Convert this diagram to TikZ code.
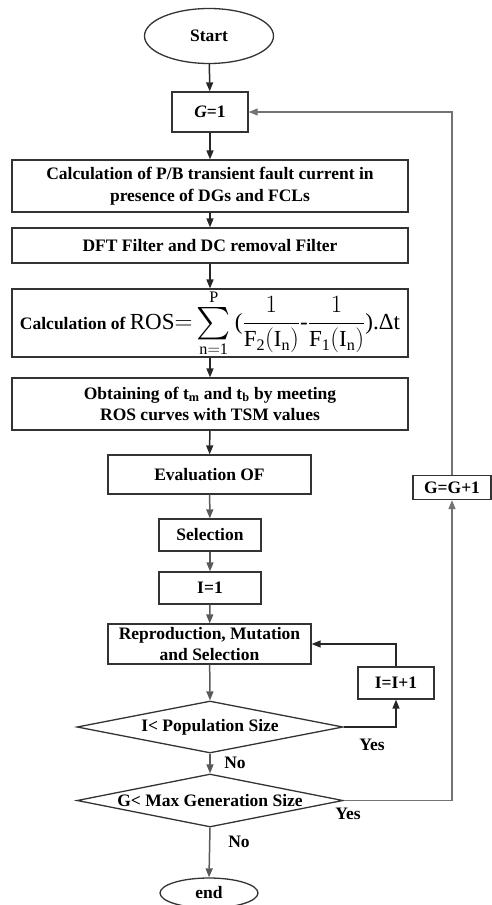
\documentclass[tikz,border=0pt]{standalone}
\usepackage{amsmath}
\usepackage{exscale}
\usepackage{fontspec}
\setmainfont{Liberation Serif}
\usetikzlibrary{shapes.geometric,arrows.meta,positioning}
\newcommand{\bigsumop}{\mathop{\vcenter{\hbox{\scalebox{1.3}{$\textstyle\sum$}}}}}
\begin{document}
\begin{tikzpicture}[x=1pt,y=-1pt,
  txt/.style={font=\fontsize{17.5}{21.5}\selectfont\bfseries},
  box/.style={txt,draw=black!80,line width=1.3pt,rectangle,inner sep=0pt,align=center},
  oval/.style={txt,draw=black!80,line width=1.3pt,ellipse,inner sep=0pt},
  dia/.style={draw=black!80,line width=1.3pt,diamond,inner sep=0pt},
  lbl/.style={txt,inner sep=0pt},
  arr/.style={line width=1.5pt,-{Triangle[length=9pt,width=7pt]}},
  darr/.style={arr,draw=black!85},
  garr/.style={arr,draw=black!65},
  fb/.style={arr,line width=1.3pt,draw=black!55}
]
\useasboundingbox (0,0) rectangle (491,905);

\node[oval,minimum width=129pt,minimum height=55pt] (start) at (209,36) {Start};
\node[box,minimum width=76pt,minimum height=40pt] (g1) at (210,112) {\textit{G}=1};
\node[box,minimum width=396pt,minimum height=52pt] (calc) at (210,186)
  {Calculation of P/B transient fault current in\\presence of DGs and FCLs};
\node[box,minimum width=396pt,minimum height=35pt] (dft) at (210,245.5)
  {DFT Filter and DC removal Filter};
\node[box,minimum width=396pt,minimum height=64pt] (ros) at (210,323)
  {Calculation of \fontsize{23}{25}\selectfont\mdseries
   $\displaystyle\mathrm{ROS}{=}\bigsumop\limits_{\mathrm{n=1}}^{\mathrm{P}}\mbox{(}\frac{1}{\mathrm{F_2(I_n)}}\mbox{-}\frac{1}{\mathrm{F_1(I_n)}}\mbox{).Δt}$};
\node[box,minimum width=396pt,minimum height=52pt] (obt) at (210,404)
  {Obtaining of t\textsubscript{m} and t\textsubscript{b} by meeting\\ROS curves with TSM values};
\node[box,minimum width=203pt,minimum height=39pt] (eval) at (209.5,474.5) {Evaluation OF};
\node[box,minimum width=102pt,minimum height=32pt] (sel) at (210,535) {Selection};
\node[box,minimum width=102pt,minimum height=32pt] (i1) at (210,588) {I=1};
\node[box,minimum width=203pt,minimum height=40pt] (rep) at (209.5,644)
  {Reproduction, Mutation\\and Selection};
\node[dia,minimum width=266pt,minimum height=52pt,
  label={[lbl]center:I< Population Size}] (d1) at (210,727) {};
\node[dia,minimum width=266pt,minimum height=53pt,
  label={[lbl]center:G< Max Generation Size}] (d2) at (210,800.5) {};
\node[box,minimum width=76pt,minimum height=32pt] (ii) at (396,683) {I=I+1};
\node[box,minimum width=78pt,minimum height=24pt] (gg) at (452,487.5) {G=G+1};
\node[oval,minimum width=98pt,minimum height=30pt] (end) at (209,893) {end};

\node[lbl] (yes1) at (372,745) {Yes};
\node[lbl] (no1) at (235,763) {No};
\node[lbl] (yes2) at (348,814) {Yes};
\node[lbl] (no2) at (239,842) {No};

\draw[darr] (start) -- (g1);
\draw[darr] (g1) -- (calc);
\draw[darr] (calc) -- (dft);
\draw[darr] (dft) -- (ros);
\draw[darr] (ros) -- (obt);
\draw[darr] (obt) -- (eval);
\draw[garr] (eval) -- (sel);
\draw[garr] (sel) -- (i1);
\draw[garr] (i1) -- (rep);
\draw[garr] (rep) -- (d1.north);
\draw[garr] (d1.south) -- (d2.north);
\draw[garr] (d2.south) -- (end.north);
\draw[darr] (d1.east) -| (ii.south);
\draw[darr] (ii.north) |- (rep.east);
\draw[fb] (d2.east) -| (gg.south);
\draw[fb] (gg.north) |- (g1.east);
\end{tikzpicture}
\end{document}
